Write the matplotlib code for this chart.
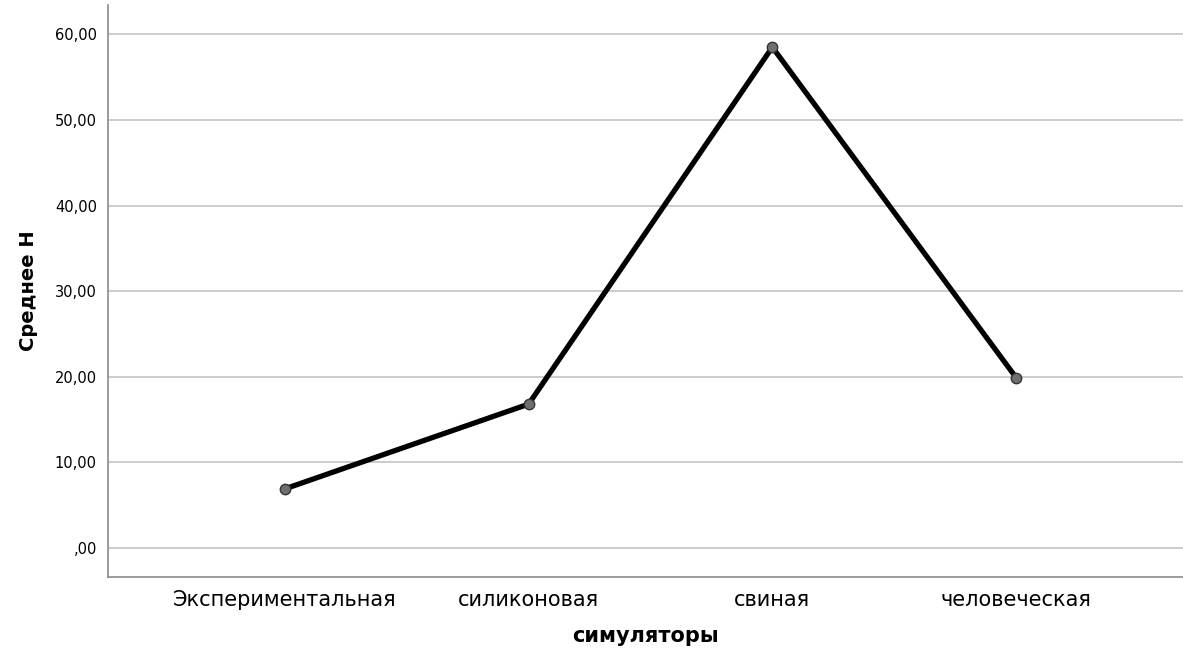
import matplotlib
matplotlib.use("Agg")
import matplotlib.pyplot as plt

categories = ["Экспериментальная", "силиконовая", "свиная", "человеческая"]
means = [6.9, 16.8, 58.5, 19.9]
y_ticks = [0, 10, 20, 30, 40, 50, 60]
y_tick_labels = [",00", "10,00", "20,00", "30,00", "40,00", "50,00", "60,00"]

fig = plt.figure(figsize=(11.83, 6.52), dpi=100)
ax = fig.add_axes([0.0913, 0.115, 0.9087, 0.877])

x = list(range(len(categories)))
ax.plot(x, means, color="black", lw=3.8, zorder=3)
ax.plot(x, means, ls="none", marker="o", ms=7.5, mfc="#6f6f6f", mec="#333333",
        mew=1, zorder=4)

ax.set_xlim(-0.726, 3.685)
ax.set_ylim(-3.4, 63.4)
ax.set_xticks(x)
ax.set_xticklabels(categories, fontsize=15)
ax.set_yticks(y_ticks)
ax.set_yticklabels(y_tick_labels, fontsize=10.5)
ax.tick_params(length=0, pad=8)
ax.tick_params(axis="x", pad=9)

ax.grid(axis="y", color="#c4c4c4", lw=1.2)
ax.set_axisbelow(True)
for side in ["top", "right"]:
    ax.spines[side].set_visible(False)
for side in ["left", "bottom"]:
    ax.spines[side].set_color("#8a8a8a")
    ax.spines[side].set_linewidth(1.2)

ax.set_xlabel("симуляторы", fontsize=15, fontweight="bold", labelpad=12)
ax.set_ylabel("Среднее Н", fontsize=14, fontweight="bold", labelpad=12)

fig.savefig("out.png", dpi=100)
